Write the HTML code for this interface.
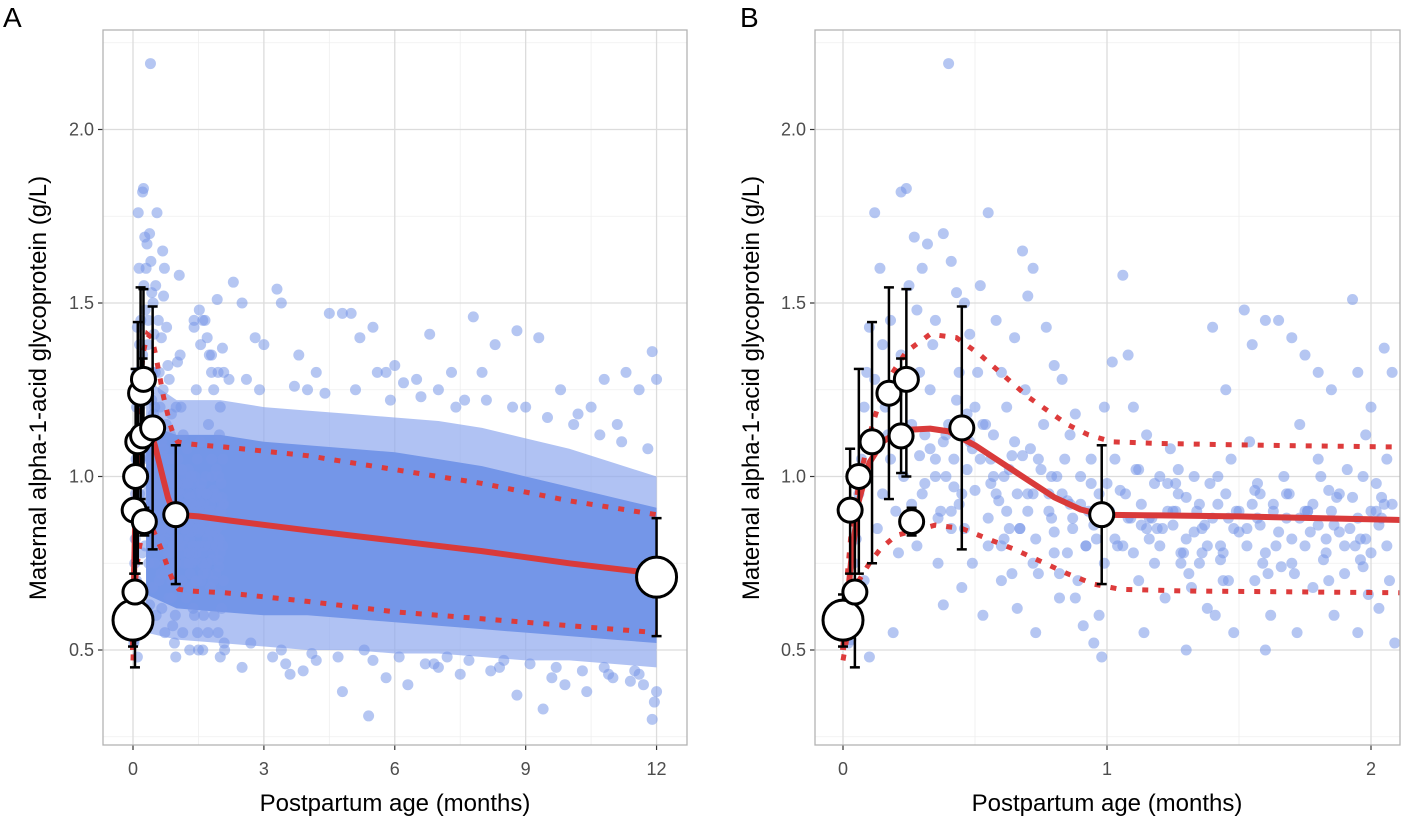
<!DOCTYPE html>
<html><head><meta charset="utf-8"><style>
html,body{margin:0;padding:0;background:#fff;}
svg{display:block;font-family:"Liberation Sans",Arial,sans-serif;}
</style></head><body>
<svg id="chart" width="1405" height="820" viewBox="0 0 1405 820" xmlns="http://www.w3.org/2000/svg">
<text x="3" y="27" font-size="28" fill="#000">A</text>
<text x="740" y="27" font-size="28" fill="#000">B</text>
<text transform="translate(46,388) rotate(-90)" text-anchor="middle" font-size="24" fill="#000">Maternal alpha-1-acid glycoprotein (g/L)</text>
<text transform="translate(759,388) rotate(-90)" text-anchor="middle" font-size="24" fill="#000">Maternal alpha-1-acid glycoprotein (g/L)</text>
<text x="395" y="811" text-anchor="middle" font-size="24" fill="#000">Postpartum age (months)</text>
<text x="1107" y="811" text-anchor="middle" font-size="24" fill="#000">Postpartum age (months)</text>
</svg>
<script>
// ---- data ----
const yTicks=[0.5,1.0,1.5,2.0];
const yTickLabels=["0.5","1.0","1.5","2.0"];
const xTicksA=[0,3,6,9,12];
const xTickLabelsA=["0","3","6","9","12"];
const xTicksB=[0,1,2];
const xTickLabelsB=["0","1","2"];
// early scatter points (age months, value)
const earlyAges=[0.02,0.03,0.04,0.05,0.06,0.07,0.08,0.09,0.1,0.05,0.08,0.1,0.03,0.12,0.14,0.15,0.16,0.18,0.2,0.22,0.24,0.25,0.27,0.28,0.13,0.15,0.17,0.19,0.21,0.23,0.26,0.29,0.3,0.12,0.18,0.22,0.26,0.28,0.3,0.29,0.32,0.35,0.38,0.4,0.41,0.43,0.46,0.48,0.33,0.35,0.37,0.38,0.4,0.42,0.44,0.46,0.48,0.5,0.34,0.36,0.39,0.41,0.45,0.47,0.49,0.31,0.43,0.52,0.55,0.58,0.6,0.62,0.65,0.68,0.7,0.72,0.53,0.55,0.57,0.6,0.62,0.65,0.67,0.7,0.72,0.74,0.54,0.58,0.63,0.66,0.69,0.73,0.51,0.56,0.61,0.64,0.71,0.77,0.8,0.83,0.86,0.9,0.93,0.96,0.99,0.78,0.8,0.82,0.84,0.87,0.89,0.91,0.94,0.97,0.99,0.76,0.79,0.85,0.88,0.92,0.95,0.98,0.81,1.02,1.06,1.08,1.1,1.15,1.2,1.25,1.3,1.35,1.4,1.45,1.48,1.04,1.07,1.12,1.14,1.17,1.22,1.24,1.28,1.3,1.33,1.36,1.38,1.42,1.44,1.47,1.03,1.09,1.18,1.27,1.32,1.39,1.46,1.11,1.21,1.34,1.41,1.49,1.52,1.55,1.6,1.65,1.7,1.75,1.8,1.85,1.93,1.95,2.0,2.05,2.08,1.53,1.56,1.58,1.62,1.64,1.67,1.7,1.72,1.75,1.78,1.8,1.83,1.86,1.88,1.9,1.92,1.95,1.97,2.0,2.03,2.05,2.07,2.09,1.6,1.73,1.98,1.54,1.68,1.82,1.99,2.06,1.16,1.26,1.37,1.43,1.57,1.63,1.77,1.87,1.94,2.02,1.13,1.23,1.29,1.5,1.61,1.76,1.84,1.96,2.04];
const earlyVals=[0.52,0.6,0.75,0.82,0.95,1.05,1.2,1.3,1.43,1.0,0.7,0.48,0.53,1.76,1.6,1.38,1.2,1.05,0.9,1.82,1.83,1.55,1.69,1.48,0.85,0.95,1.12,0.55,0.78,1.0,0.92,1.3,1.6,1.28,1.45,1.35,1.15,0.8,0.95,1.06,1.67,1.45,1.7,2.19,1.62,1.53,1.5,1.41,1.25,1.05,0.9,0.63,1.15,0.97,1.3,0.85,1.1,1.2,1.38,0.75,1.0,0.85,0.95,1.02,0.75,1.12,1.22,1.55,1.76,1.45,1.3,1.2,1.4,1.65,1.52,1.6,0.6,0.8,1.0,0.7,0.9,1.1,0.85,0.95,0.75,1.05,1.15,0.95,1.02,0.62,1.25,0.55,1.3,1.05,0.82,0.72,1.08,1.43,1.32,1.28,1.12,1.0,0.9,0.82,0.75,0.95,0.78,0.65,1.05,0.85,0.7,0.57,1.05,0.6,1.2,1.15,0.88,0.93,1.18,0.8,0.52,0.48,1.0,1.33,1.58,1.35,1.2,1.12,1.0,0.9,0.82,0.75,1.43,1.25,0.55,0.8,0.95,0.7,0.55,0.88,0.65,1.08,0.78,0.5,1.0,0.85,0.62,0.92,0.78,1.05,1.05,0.88,0.75,0.95,0.68,0.98,0.7,1.02,0.85,0.9,0.6,0.9,1.48,1.38,1.45,1.45,1.4,1.35,1.3,1.25,1.51,1.3,1.2,1.37,1.3,0.85,0.7,0.95,0.6,0.8,1.0,0.75,0.55,0.9,0.68,1.05,0.82,0.6,0.95,0.72,0.85,0.55,1.0,0.78,0.62,0.92,0.7,0.52,0.5,1.15,1.12,1.1,0.88,0.76,0.66,1.05,0.82,0.9,0.86,0.8,0.88,0.92,0.84,0.94,0.8,0.9,0.86,0.98,0.78,0.84,0.72,0.9,0.96,0.82,0.88];
// additional mid-density points (panel B detail)
const midAges=[0.31,0.33,0.36,0.39,0.42,0.44,0.47,0.5,0.52,0.55,0.57,0.59,0.61,0.63,0.66,0.68,0.7,0.73,0.75,0.78,0.8,0.83,0.85,0.87,0.9,0.92,0.95,0.97,1.01,1.03,1.05,1.08,1.1,1.13,1.15,1.18,1.2,1.23,1.25,1.28,1.3,1.33,1.35,1.38,1.4,1.43,1.45,1.48,1.5,1.53,1.55,1.58,1.6,1.63,1.65,1.68,1.7,1.73,1.75,1.78,1.8,1.83,1.85,1.88,1.9,1.93,1.95,1.98,2.0,2.03,2.06,2.08,0.35,0.41,0.49,0.56,0.64,0.72,0.79,0.86,0.94,1.06,1.16,1.26,1.36,1.46,1.56,1.66,1.76,1.86,1.96,2.04,0.38,0.53,0.67,0.82,1.0,1.19,1.31,1.44,1.59,1.71,1.84,1.97,0.45,0.6,0.74,0.88,1.12,1.27,1.42,1.57,1.69,1.81,1.91,2.02];
const midVals=[0.98,1.08,0.88,1.12,1.05,0.92,1.18,0.96,1.05,0.88,1.12,0.93,1.0,0.85,0.95,1.06,0.9,0.82,1.02,0.9,0.84,0.95,0.78,0.88,0.92,0.8,0.86,0.95,0.9,0.82,0.96,0.88,0.78,0.92,0.85,0.98,0.8,0.9,0.86,0.75,0.94,0.84,0.92,0.8,0.88,0.76,0.95,0.85,0.9,0.8,0.92,0.86,0.78,0.9,0.84,0.95,0.82,0.88,0.8,0.92,0.86,0.78,0.9,0.84,0.8,0.94,0.88,0.82,0.9,0.86,0.8,0.92,1.0,0.9,1.08,0.98,1.06,0.95,1.0,0.92,0.98,0.8,0.88,0.98,0.78,0.88,0.96,0.74,0.9,0.86,0.76,0.94,1.1,1.15,0.85,0.72,0.98,0.85,0.72,0.7,0.75,0.72,0.7,0.74,0.68,0.8,0.72,0.65,1.02,1.02,1.0,0.98,0.95,1.0,1.02,0.98];
// later outlier points for panel A
const lateAges=[2.3,2.5,3.3,3.4,4.5,4.8,5.0,5.2,5.5,5.8,6.5,6.8,7.3,7.8,8.3,8.8,9.3,10.5,11.3,11.9,2.8,3.8,4.2,6.0,7.0,8.0,9.8,10.8,11.6,2.5,3.2,3.6,4.2,4.8,5.4,5.8,6.3,7.0,7.5,8.2,8.8,9.4,9.9,10.4,11.0,11.7,11.9,11.95,12,1.5,2.0,3.9,6.7,8.5,10.8,11.4,1.8,2.6,3.0,4.0,5.6,6.2,7.6,9.0,10.2,11.1,12.0,1.4,3.5,5.3,7.2,9.6,11.5,2.2,2.9,3.7,4.4,5.1,5.9,6.6,7.4,8.1,8.7,9.5,10.1,10.7,11.2,11.8,2.1,2.7,3.4,4.1,4.7,5.5,6.1,6.9,7.7,8.4,9.1,9.7,10.3,10.9,11.6];
const lateVals=[1.56,1.5,1.54,1.5,1.47,1.47,1.47,1.4,1.43,1.3,1.28,1.41,1.3,1.46,1.38,1.42,1.4,1.2,1.3,1.36,1.4,1.35,1.3,1.32,1.25,1.3,1.25,1.28,1.25,0.45,0.48,0.43,0.47,0.38,0.31,0.42,0.4,0.45,0.43,0.44,0.37,0.33,0.4,0.38,0.42,0.4,0.3,0.35,0.38,0.5,0.48,0.44,0.46,0.47,0.45,0.41,1.35,1.28,1.38,1.25,1.3,1.27,1.22,1.2,1.18,1.15,1.28,1.45,0.46,0.5,0.48,0.42,0.44,1.28,1.25,1.26,1.24,1.25,1.22,1.23,1.2,1.22,1.2,1.17,1.15,1.12,1.1,1.08,0.5,0.52,0.5,0.49,0.48,0.47,0.48,0.46,0.47,0.45,0.46,0.45,0.44,0.43,0.43];
// density band for panel A
const bandAges=[0.3,1,2,3,4,5,6,7,8,9,10,11,12];
const bandLo=[0.55,0.53,0.52,0.51,0.5,0.5,0.49,0.49,0.48,0.47,0.47,0.46,0.45];
const bandHi=[1.28,1.22,1.22,1.2,1.19,1.18,1.17,1.16,1.14,1.11,1.08,1.04,1.0];
const coreLo=[0.66,0.62,0.61,0.6,0.6,0.59,0.58,0.57,0.56,0.55,0.54,0.53,0.52];
const coreHi=[1.15,1.12,1.12,1.1,1.09,1.08,1.07,1.05,1.03,1.0,0.97,0.94,0.91];
// fitted curve & quantile curves
const fitAges=[0,0.03,0.06,0.1,0.15,0.2,0.25,0.33,0.4,0.5,0.6,0.7,0.8,0.9,0.98,1.2,1.5,2.1,4,6,8,10,12];
const fitVals=[0.5,0.75,0.93,1.04,1.1,1.125,1.135,1.138,1.13,1.09,1.04,0.99,0.94,0.905,0.89,0.888,0.885,0.875,0.845,0.815,0.785,0.75,0.72];
const upAges=[0,0.03,0.06,0.1,0.14,0.18,0.24,0.33,0.43,0.52,0.7,0.85,0.93,1.02,1.2,1.6,2.1,4,6,8,10,12];
const upVals=[0.58,0.83,0.98,1.12,1.22,1.29,1.36,1.41,1.4,1.35,1.23,1.15,1.12,1.1,1.095,1.09,1.085,1.06,1.02,0.98,0.93,0.89];
const loAges=[0,0.03,0.06,0.1,0.14,0.2,0.35,0.45,0.55,0.65,0.75,0.85,0.95,1.05,1.3,2.1,4,6,8,10,12];
const loVals=[0.47,0.6,0.7,0.75,0.79,0.83,0.86,0.85,0.82,0.79,0.755,0.72,0.69,0.675,0.67,0.665,0.64,0.61,0.59,0.57,0.55];
// summary points
const sumAges=[0,0.027,0.045,0.06,0.11,0.174,0.22,0.24,0.26,0.45,0.98,12];
const sumMeans=[0.586,0.903,0.667,1.0,1.1,1.24,1.117,1.28,0.87,1.14,0.89,0.71];
const sumLo=[0.51,0.72,0.45,0.72,0.75,0.935,1.01,1.0,0.83,0.79,0.69,0.54];
const sumHi=[0.66,1.08,0.88,1.31,1.445,1.545,1.34,1.54,0.91,1.49,1.09,0.88];
const sumSize=[20,12,12,12,12,12,12,12,12,12,12,20];

// ---- scales ----
const y=v=>650-(v-0.5)*347;
const xA=m=>133+m*43.63;
const xB=m=>843+m*264;
const NS="http://www.w3.org/2000/svg";
const svg=document.getElementById('chart');
function mk(tag,attrs,parent){const e=document.createElementNS(NS,tag);for(const k in attrs)e.setAttribute(k,attrs[k]);(parent||svg).appendChild(e);return e;}

function panel(id,x0,x1,xs,xMaj,xMajL,xMin){
  const g=mk('g',{});
  
  
  const cp=mk('clipPath',{id:'clip'+id},g);
  mk('rect',{x:x0,y:30,width:x1-x0,height:715},cp);
  [0.25,0.75,1.25,1.75,2.25].forEach(v=>{const l=mk('line',{x1:x0,x2:x1,y1:y(v),y2:y(v),stroke:'#efefef','stroke-width':0.8},g);});
  xMin.forEach(m=>{const l=mk('line',{x1:xs(m),x2:xs(m),y1:30,y2:745,stroke:'#efefef','stroke-width':0.8},g);});
  yTicks.forEach((v,i)=>{const l=mk('line',{x1:x0,x2:x1,y1:y(v),y2:y(v),stroke:'#dcdcdc','stroke-width':1.3},g);
    mk('line',{x1:x0-5,x2:x0,y1:y(v),y2:y(v),stroke:'#333','stroke-width':1.2},g);
    const t=mk('text',{x:x0-9,y:y(v)+6,'text-anchor':'end','font-size':18,fill:'#4d4d4d'},g);t.textContent=yTickLabels[i];});
  xMaj.forEach((m,i)=>{const l=mk('line',{x1:xs(m),x2:xs(m),y1:30,y2:745,stroke:'#dcdcdc','stroke-width':1.3},g);
    mk('line',{x1:xs(m),x2:xs(m),y1:745,y2:750,stroke:'#333','stroke-width':1.2},g);
    const t=mk('text',{x:xs(m),y:775,'text-anchor':'middle','font-size':18,fill:'#4d4d4d'},g);t.textContent=xMajL[i];});
  const inner=mk('g',{'clip-path':'url(#clip'+id+')'},g);
  const dot=(a,v)=>{const c=mk('circle',{cx:xs(a),cy:y(v),r:5.5,fill:'#7898e8','fill-opacity':0.55},inner);};
  if(id==='a'){
    const poly=(lo,hi)=>bandAges.map((a,i)=>xs(a)+','+y(hi[i])).concat(bandAges.slice().reverse().map((a,j)=>xs(a)+','+y(lo[bandAges.length-1-j]))).join(' ');
    const b1=mk('polygon',{points:poly(bandLo,bandHi),fill:'#8ea8ee',opacity:0.7},inner);
    const b2=mk('polygon',{points:poly(coreLo,coreHi),fill:'#7496e8'},inner);
    lateAges.forEach((a,i)=>dot(a,lateVals[i]));
  }
  earlyAges.forEach((a,i)=>dot(a,earlyVals[i]));
  midAges.forEach((a,i)=>dot(a,midVals[i]));
  const path=(ages,vals)=>ages.map((a,i)=>(i?'L':'M')+xs(a).toFixed(1)+','+y(vals[i]).toFixed(1)).join(' ');
  const up=mk('path',{d:path(upAges,upVals),fill:'none',stroke:'#dd3b3b','stroke-width':5,'stroke-dasharray':'6 10'},inner);
  const lo=mk('path',{d:path(loAges,loVals),fill:'none',stroke:'#dd3b3b','stroke-width':5,'stroke-dasharray':'6 10'},inner);
  const fit=mk('path',{d:path(fitAges,fitVals),fill:'none',stroke:'#d93a3a','stroke-width':6,'stroke-linejoin':'round'},inner);
  sumAges.forEach((a,i)=>{const X=xs(a);
    const eb=mk('g',{stroke:'#000','stroke-width':2.5},inner);
    mk('line',{x1:X,x2:X,y1:y(sumLo[i]),y2:y(sumHi[i])},eb);
    mk('line',{x1:X-5,x2:X+5,y1:y(sumLo[i]),y2:y(sumLo[i])},eb);
    mk('line',{x1:X-5,x2:X+5,y1:y(sumHi[i]),y2:y(sumHi[i])},eb);});
  sumAges.forEach((a,i)=>{const c=mk('circle',{cx:xs(a),cy:y(sumMeans[i]),r:sumSize[i],fill:'#fff',stroke:'#000','stroke-width':3},inner);});
  const fr=mk('rect',{x:x0,y:30,width:x1-x0,height:715,fill:'none',stroke:'#b3b3b3','stroke-width':1.3},g);
}
panel('a',103,687,xA,xTicksA,xTickLabelsA,[1.5,4.5,7.5,10.5]);
panel('b',815,1400,xB,xTicksB,xTickLabelsB,[0.5,1.5]);
</script>
</body></html>
